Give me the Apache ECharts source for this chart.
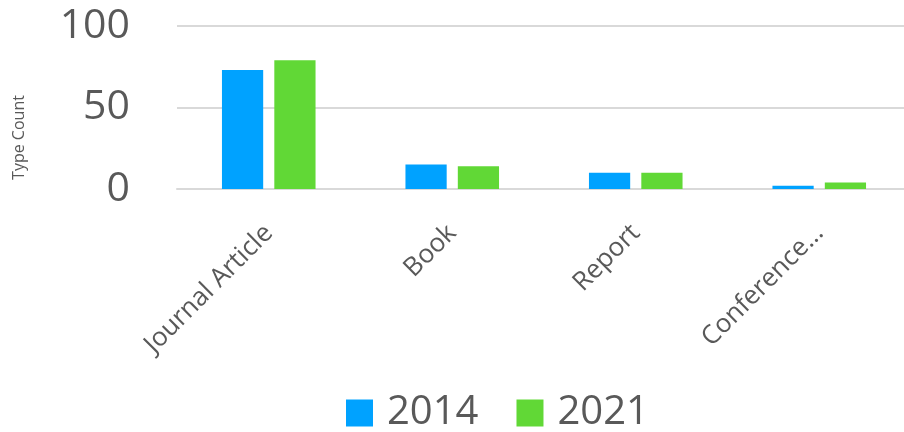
<!DOCTYPE html>
<html>
<head>
<meta charset="utf-8">
<script src="https://cdn.jsdelivr.net/npm/echarts@6/dist/echarts.min.js"></script>
<style>
  html, body { margin: 0; padding: 0; background: #fff; }
  #container { width: 904px; height: 432px; }
</style>
</head>
<body>
<div id="container"></div>
<script>
var categories = ['Journal Article', 'Book', 'Report', 'Conference\u2026'];
var seriesNames = ['2014', '2021'];
var values2014 = [73, 15, 10, 2];
var values2021 = [79, 14, 10, 4];
var colors = ['#00A2FF', '#61D836'];

var myChart = echarts.init(document.getElementById('container'));
var option = {
    textStyle: { fontFamily: 'Open Sans' },
    color: colors,
    legend: {
        data: seriesNames,
        top: 393,
        left: 346,
        padding: 0,
        icon: 'rect',
        itemWidth: 27,
        itemHeight: 27,
        itemGap: 38,
        textStyle: { fontSize: 40, color: '#595959', fontFamily: 'Open Sans', padding: [0, 0, 0, 9] }
    },
    grid: {
        left: 177,
        width: 734,
        top: 26,
        bottom: 243,
        outerBoundsMode: 'none'
    },
    xAxis: {
        type: 'category',
        data: categories,
        axisLine: { show: true, lineStyle: { color: '#d9d9d9', width: 2 } },
        axisTick: { show: false },
        axisLabel: {
            rotate: 45,
            fontSize: 26,
            color: '#595959',
            margin: 40,
            interval: 0
        }
    },
    yAxis: {
        type: 'value',
        min: 0,
        max: 100,
        interval: 50,
        name: 'Type Count',
        nameLocation: 'middle',
        nameGap: 150,
        nameTextStyle: { fontSize: 16, color: '#595959', padding: [0, 60, 0, 0] },
        axisLine: { show: false },
        axisTick: { show: false },
        splitLine: { lineStyle: { color: '#d9d9d9', width: 2 } },
        axisLabel: { fontSize: 41, color: '#595959', margin: 47 }
    },
    series: [{
        name: seriesNames[0],
        type: 'bar',
        data: values2014,
        barGap: '27%',
        barCategoryGap: '49%'
    }, {
        name: seriesNames[1],
        type: 'bar',
        data: values2021,
        barGap: '27%',
        barCategoryGap: '49%'
    }]
};
myChart.setOption(option);
</script>
</body>
</html>
